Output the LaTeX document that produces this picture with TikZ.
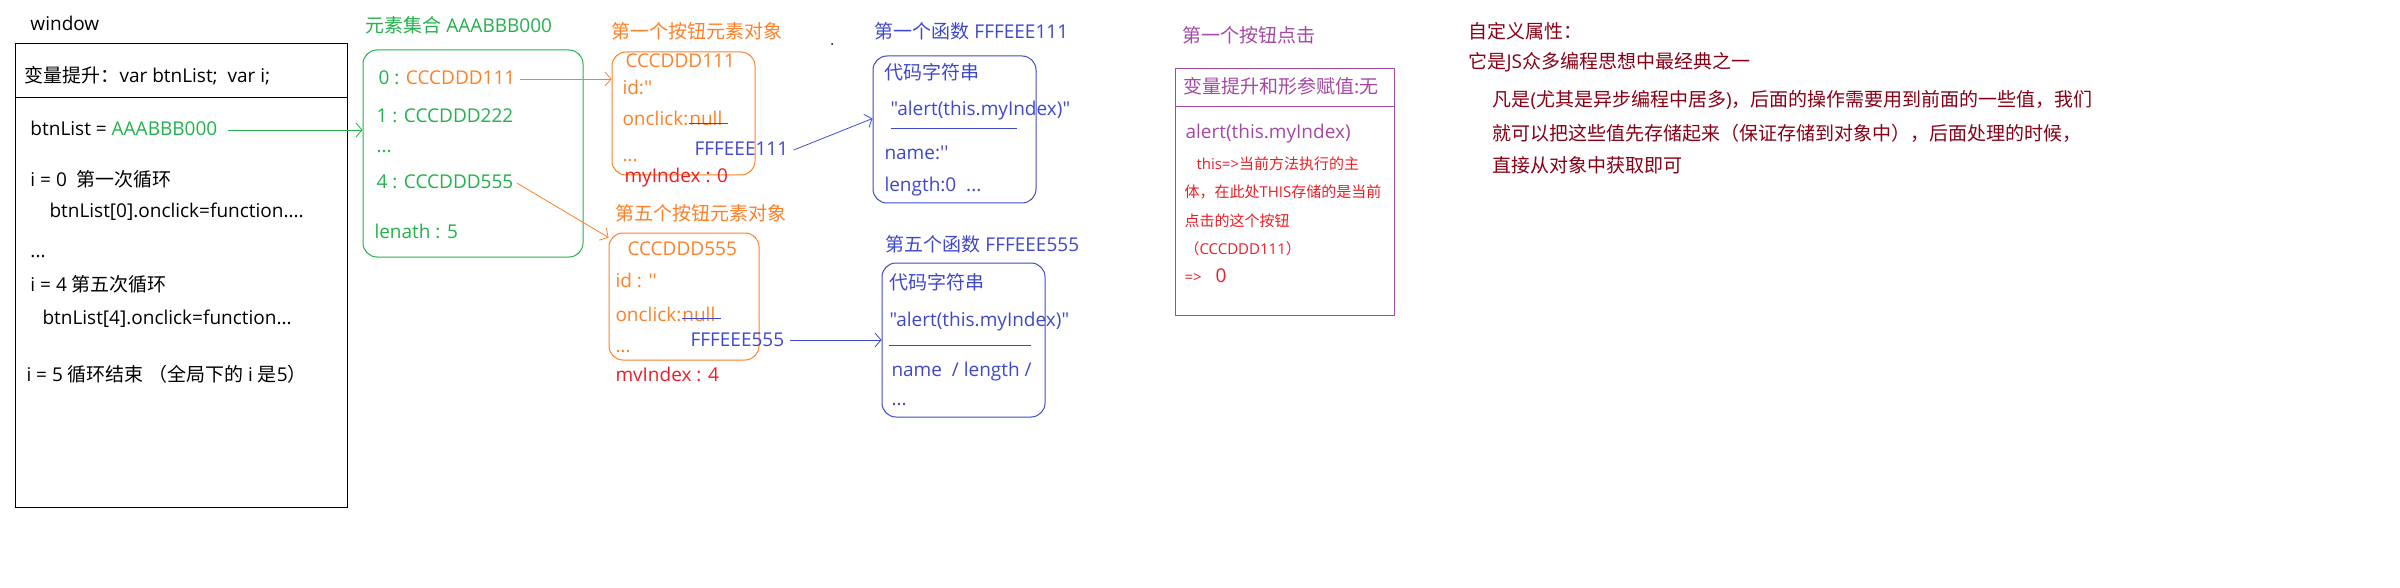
\documentclass[tikz,border=0pt]{standalone}
\usepackage{fontspec}
\setmainfont{Open Sans}[Ligatures=TeXOff]
\newfontfamily\zhfont{Noto Sans CJK SC}[Ligatures=TeXOff]
\newcommand\zh[1]{{\zhfont #1}}
\usepackage{tikz}
\usetikzlibrary{positioning,arrows.meta}
\definecolor{grn}{HTML}{22B14C}
\definecolor{org}{HTML}{FF7F27}
\definecolor{ind}{HTML}{3F48CC}
\definecolor{rd}{HTML}{ED1C24}
\definecolor{pur}{HTML}{A349A4}
\definecolor{drd}{HTML}{880015}

\begin{document}
\begin{tikzpicture}[x=1pt,y=-1pt,line width=1pt,
   txt/.style={anchor=west,inner sep=0pt,font=\fontsize{19}{23}\selectfont,text height=16pt,text depth=4pt},
   note/.style={txt,font=\fontsize{15}{18}\selectfont,text height=12.5pt,text depth=3pt,text=rd},
   memo/.style={txt,text=drd},
   box/.style={draw,rounded corners=14pt,inner sep=0pt},
   link/.style={-{Straight Barb[length=6pt,width=14pt]},line width=0.8pt}]
\useasboundingbox (0,0) rectangle (2400,588);
% window
\node[txt] (wname) at (30,25) {window};
\node[draw,inner sep=0pt,minimum width=332pt,minimum height=463pt] (win) at (181,275.5) {};
\draw (win.west |- 0,98) -- (win.east |- 0,98);
\node[txt] (hoist) at (24,77) {\zh{变量提升：}var btnList;\ \ var i;};
\node[txt] (btnref) at (30,130) {btnList = \textcolor{grn}{AAABBB000}};
\node[txt] (loop0) at (30,180) {i = 0\ \ \zh{第一次循环}};
\node[txt] (set0) at (49,212) {btnList[0].onclick=function....};
\node[txt] (wdots) at (30,251) {...};
\node[txt] (loop4) at (30,285) {i = 4 \zh{第五次循环}};
\node[txt] (set4) at (42,318) {btnList[4].onclick=function...};
\node[txt] (wend) at (26,375) {i = 5 \zh{循环结束 （全局下的} i \zh{是}5\zh{）}};
% element collection
\node[txt,text=grn] (colltitle) at (365,27) {\zh{元素集合} AAABBB000};
\node[box,draw=grn,minimum width=220pt,minimum height=207pt] (coll) at (473,153.5) {};
\node[txt,text=grn] (e0) at (378,79) {0 : \textcolor{org}{CCCDDD111}};
\node[txt,text=grn] (e1) at (376,117) {1 : CCCDDD222};
\node[txt,text=grn] (edots) at (376,147) {...};
\node[txt,text=grn] (e4) at (376,183) {4 : CCCDDD555};
\node[txt,text=grn] (elen) at (374,232) {lenath : 5};
\draw[grn,link] ([xshift=10pt]btnref.east) -- (btnref.east -| coll.west);
% first button
\node[txt,text=org] (b1title) at (611,33) {\zh{第一个按钮元素对象}};
\node[box,draw=org,minimum width=143pt,minimum height=123pt] (b1) at (683.5,113.5) {};
\node[txt,text=org] (b1name) at (625,62) {CCCDDD111};
\node[txt,text=org] (b1id) at (622,89) {id:''};
\node[txt,text=org] (b1click) at (622,120) {onclick:};
\node[txt,text=org,right=0pt of b1click] (b1null) {null};
\draw[ind] ([yshift=-4pt]b1null.west) -- ([xshift=5pt,yshift=-4pt]b1null.east);
\node[txt,text=ind] (b1fn) at (694,150) {FFFEEE111};
\node[txt,text=org] (b1dots) at (622,156) {...};
\node[txt,text=rd] (b1idx) at (624,177) {myIndex : 0};
\draw[org,link] ([xshift=4pt]e0.east) -- (e0.east -| b1.west);
% fifth button
\node[txt,text=org] (b5title) at (615,215) {\zh{第五个按钮元素对象}};
\node[box,draw=org,minimum width=150pt,minimum height=127pt] (b5) at (684,296.5) {};
\node[txt,text=org] (b5name) at (627,249) {CCCDDD555};
\node[txt,text=org] (b5id) at (615,281) {id : ''};
\node[txt,text=org] (b5click) at (615,315) {onclick:\ };
\node[txt,text=org,right=0pt of b5click] (b5null) {null};
\draw[ind] ([yshift=-3pt]b5null.west) -- ([xshift=5pt,yshift=-3pt]b5null.east);
\node[txt,text=ind] (b5fn) at (690,340) {FFFEEE555};
\node[txt,text=org] (b5dots) at (615,346) {...};
\node[txt,text=rd] (b5idx) at (615,375) {mvIndex : 4};
\draw[org,link] ([xshift=3pt]e4.east) -- ([yshift=-5pt]b5.north west);
% first function
\fill (832,44) circle (1pt);
\node[txt,text=ind] (f1title) at (874,33) {\zh{第一个函数} FFFEEE111};
\node[box,draw=ind,minimum width=163pt,minimum height=147pt] (f1) at (954.5,129.5) {};
\node[txt,text=ind] (f1code) at (884,74) {\zh{代码字符串}};
\node[txt,text=ind] (f1str) at (890,110) {"alert(this.myIndex)"};
\draw[ind] (891,129) -- (1017,129);
\node[txt,text=ind] (f1name) at (884,154) {name:''};
\node[txt,text=ind] (f1len) at (884,186) {length:0\ \ ...};
\draw[ind,link] ([xshift=5pt]b1fn.east) -- ([yshift=11pt]f1.west);
% fifth function
\node[txt,text=ind] (f5title) at (885,245) {\zh{第五个函数} FFFEEE555};
\node[box,draw=ind,minimum width=163pt,minimum height=154pt] (f5) at (963.5,340) {};
\node[txt,text=ind] (f5code) at (889,283) {\zh{代码字符串}};
\node[txt,text=ind] (f5str) at (889,320) {"alert(this.myIndex)"};
\draw[ind] (889,345) -- (1031,345);
\node[txt,text=ind] (f5name) at (891,370) {name\ \ / length /};
\node[txt,text=ind] (f5dots) at (891,399) {...};
\draw[ind,link] ([xshift=5pt]b5fn.east) -- (b5fn.east -| f5.west);
% first click
\node[txt,text=pur] (clktitle) at (1182,37) {\zh{第一个按钮点击}};
\node[draw=pur,inner sep=0pt,minimum width=219pt,minimum height=246pt] (clk) at (1284.5,192) {};
\draw[pur] (clk.west |- 0,107) -- (clk.east |- 0,107);
\node[txt,text=pur] (clkhead) at (1183,88) {\zh{变量提升和形参赋值:无}};
\node[txt,text=pur] (clkcall) at (1185,133) {alert(this.myIndex)};
\node[note] (clkn1) at (1196,165) {this=>\zh{当前方法执行的主}};
\node[note] (clkn2) at (1184,193) {\zh{体，在此处}THIS\zh{存储的是当前}};
\node[note] (clkn3) at (1184,222) {\zh{点击的这个按钮}};
\node[note] (clkn4) at (1184,250) {\zh{（}CCCDDD111\zh{）}};
\node[note] (clkn5) at (1184,278) {=>\hspace{14pt}{\fontsize{19}{22}\selectfont 0}};
% custom attribute
\node[memo] (m1) at (1468,33) {\zh{自定义属性：}};
\node[memo] (m2) at (1468,63) {\zh{它是}JS\zh{众多编程思想中最经典之一}};
\node[memo] (m3) at (1492,101) {\zh{凡是}(\zh{尤其是异步编程中居多})\zh{，后面的操作需要用到前面的一些值，我们}};
\node[memo] (m4) at (1492,135) {\zh{就可以把这些值先存储起来（保证存储到对象中），后面处理的时候，}};
\node[memo] (m5) at (1492,167) {\zh{直接从对象中获取即可}};
\end{tikzpicture}
\end{document}
